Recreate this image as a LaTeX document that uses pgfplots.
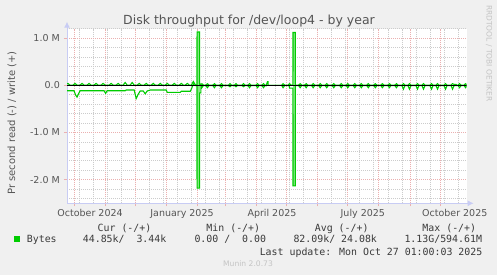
\documentclass[border=0pt]{standalone}
\usepackage{fontspec}
\setmainfont{DejaVu Sans}
\newfontfamily\monofont{DejaVu Sans Mono}
\usepackage{pgfplots}
\pgfplotsset{compat=1.18}
\usetikzlibrary{arrows.meta}

\definecolor{bg}{HTML}{F0F0F0}
\definecolor{munin}{HTML}{00CC00}
\definecolor{spikefill}{HTML}{84E884}
\definecolor{mgrid}{HTML}{EBB0B0}
\definecolor{mingrid}{HTML}{CCCCCC}
\definecolor{axiscol}{HTML}{C8CCF4}
\definecolor{txt}{HTML}{555555}
\definecolor{legtxt}{HTML}{3A3A3A}
\definecolor{faint}{HTML}{C4C4C4}

% days counted from 1 Oct 2024, values in MB/s
\pgfplotstableread{
day val
-7 0.03
-6 0.04
-4 0.005
-1 0.005
1 0.04
3 0.005
6 0.005
8 0.04
10 0.005
13 0.005
15 0.04
17 0.005
20 0.005
22 0.04
24 0.005
27 0.005
29 0.04
31 0.005
35 0.005
37 0.04
39 0.005
42 0.005
44 0.04
46 0.005
49 0.005
51 0.06
53 0.005
56 0.005
58 0.06
60 0.005
63 0.005
65 0.04
67 0.005
70 0.005
72 0.04
74 0.005
77 0.005
79 0.04
81 0.005
84 0.005
86 0.04
88 0.005
91 0.005
93 0.04
95 0.005
98 0.005
100 0.04
102 0.005
105 0.005
107 0.04
109 0.005
111 0.005
113 0.04
115 0.005
117 0.005
119 0.08
121 0.01
122.6 0.01
122.7 1.13
125.2 1.13
125.3 0.005
126 0.005
127.5 0.035
129 0.005
131.5 0.005
133 0.035
134.5 0.005
138.5 0.005
140 0.035
141.5 0.005
145.5 0.005
147 0.035
148.5 0.005
154 0.005
155.5 0.035
157 0.005
160 0.005
161.5 0.035
163 0.005
167.5 0.005
169 0.035
170.5 0.005
173.5 0.005
175 0.035
176.5 0.005
181.5 0.005
183 0.035
184.5 0.005
187.5 0.005
189 0.035
190.5 0
191.5 -0.01
193 0.08
193.5 0.08
193.6 0
207 0
208.5 0.035
210 0.005
213.5 0.005
215 0.035
216.5 0.005
218.3 0.005
218.4 1.12
220.7 1.12
220.8 0.005
224 0.005
225.5 0.035
227 0.005
230 0.005
231.5 0.035
233 0.005
237 0.005
238.5 0.035
240 0.005
244 0.005
245.5 0.035
247 0.005
250.5 0.005
252 0.035
253.5 0.005
257.5 0.005
259 0.035
260.5 0.005
265 0.005
266.5 0.035
268 0.005
271.5 0.005
273 0.035
274.5 0.005
278.5 0.005
280 0.035
281.5 0.005
285 0.005
286.5 0.035
288 0.005
292 0.005
293.5 0.035
295 0.005
299 0.005
300.5 0.035
302 0.005
306 0.005
307.5 0.035
309 0.005
313 0.005
314.5 0.035
316 0.005
320 0.005
321.5 0.035
323 0.005
327 0.005
328.5 0.035
330 0.005
333 0.005
334.5 0.035
336 0.005
341 0.005
342.5 0.035
344 0.005
347 0.005
348.5 0.035
350 0.005
355 0.005
356.5 0.035
358 0.005
361 0.005
362.5 0.035
364 0.005
369 0.005
370.5 0.035
372 0.005
376 0.005
377.5 0.035
379 0.02
381 0.02
381.5 0.005
383 0.005
384.5 0.035
386 0.005
389 0.005
390.5 0.035
391.6 0.01
}\writetable

\pgfplotstableread{
day val
-7 -0.115
0 -0.115
1.5 -0.2
3 -0.25
4.5 -0.18
6 -0.115
30 -0.115
31.5 -0.17
33 -0.115
51 -0.115
52 -0.1
60 -0.1
62 -0.28
64 -0.19
66 -0.12
69 -0.12
71 -0.18
73 -0.12
76 -0.1
92 -0.1
93 -0.15
106 -0.15
107 -0.125
116 -0.125
118 -0.03
119 0.03
120 0
122.6 -0.01
122.7 -2.18
125.2 -2.18
125.3 -0.16
126.5 -0.16
126.6 -0.005
127.5 -0.05
129 -0.005
131.5 -0.005
133 -0.05
134.5 -0.005
138.5 -0.005
140 -0.05
141.5 -0.005
145.5 -0.005
147 -0.05
148.5 -0.005
154 -0.005
155.5 -0.03
157 -0.005
160 -0.005
161.5 -0.03
163 -0.005
167.5 -0.005
169 -0.03
170.5 -0.005
173.5 -0.005
175 -0.05
176.5 -0.005
181.5 -0.005
183 -0.05
184.5 -0.005
187.5 -0.005
189 -0.05
190.5 0
207 0
208.5 -0.05
210 -0.005
214.5 -0.005
215 -0.06
218.3 -0.06
218.4 -2.13
220.7 -2.13
220.8 -0.005
224 -0.005
225.5 -0.05
227 -0.005
230 -0.005
231.5 -0.05
233 -0.005
237 -0.005
238.5 -0.05
240 -0.005
244 -0.005
245.5 -0.05
247 -0.005
250.5 -0.005
252 -0.05
253.5 -0.005
257.5 -0.005
259 -0.05
260.5 -0.005
265 -0.005
266.5 -0.05
268 -0.005
271.5 -0.005
273 -0.05
274.5 -0.005
278.5 -0.005
280 -0.05
281.5 -0.005
285 -0.005
286.5 -0.05
288 -0.005
292 -0.005
293.5 -0.05
295 -0.005
299 -0.005
300.5 -0.05
302 -0.005
306 -0.005
307.5 -0.05
309 -0.005
313 -0.005
314.5 -0.05
316 -0.005
320 -0.005
321.5 -0.05
323 -0.005
327 -0.005
328.5 -0.08
330 -0.005
333 -0.005
334.5 -0.08
336 -0.005
341 -0.005
342.5 -0.08
344 -0.005
347 -0.005
348.5 -0.08
350 -0.005
355 -0.005
356.5 -0.08
358 -0.005
361 -0.005
362.5 -0.08
364 -0.005
369 -0.005
370.5 -0.08
372 -0.005
376 -0.005
377.5 -0.08
379 -0.005
383 -0.005
384.5 -0.05
386 -0.005
389 -0.005
390.5 -0.05
391.6 -0.01
}\readtable

\begin{document}
\begin{tikzpicture}
\useasboundingbox (0,0) rectangle (497bp,275bp);
\fill[bg] (0,0) rectangle (497bp,275bp);

\begin{axis}[
  anchor=south west, at={(67bp,71.7bp)},
  scale only axis, width=399.7bp, height=174.6bp,
  xmin=-7, xmax=391.6, ymin=-2.5, ymax=1.2,
  axis lines=left,
  x axis line style={draw=axiscol, line width=1bp, -{Latex[length=6bp,width=6bp]}, shorten >=-7bp},
  y axis line style={draw=axiscol, line width=1bp, -{Latex[length=6bp,width=6bp]}, shorten >=-7bp},
  axis background/.style={fill=white},
  xtick={0,31,61,92,123,151,182,212,243,273,304,335,365},
  xticklabels={},
  minor xtick={5,19,33,47,61,75,89,103,117,131,145,159,173,187,201,215,229,243,257,271,285,299,313,327,341,355,369,383},
  ytick={-2,-1,0,1},
  yticklabels={-2.0 M,-1.0 M,0.0,1.0 M},
  minor ytick={-2.4,-2.2,-1.8,-1.6,-1.4,-1.2,-0.8,-0.6,-0.4,-0.2,0.2,0.4,0.6,0.8,1.2},
  grid=both,
  major grid style={draw=mgrid, dash pattern=on 1bp off 1bp, line width=0.75bp},
  minor grid style={draw=mingrid, dash pattern=on 1bp off 1bp, line width=0.75bp},
  tick align=outside, major tick length=3bp, minor tick length=0bp,
  major tick style={draw=mgrid, line width=0.75bp},
  extra x ticks={16,107.7,197.4,288,379.7},
  extra x tick labels={October 2024,January 2025,April 2025,July 2025,October 2025},
  extra x tick style={grid=none, major tick length=0bp},
  tick label style={font=\fontsize{9.5bp}{11bp}\selectfont, text=txt, inner sep=0pt},
  x tick label style={anchor=base, yshift=-12.8bp},
  y tick label style={anchor=east, xshift=-4bp},
]
  % light interior of the two spikes
  \addplot[draw=none, fill=spikefill] coordinates {(122.7,-2.18) (122.7,1.13) (125.2,1.13) (125.2,-2.18)};
  \addplot[draw=none, fill=spikefill] coordinates {(218.4,-2.13) (218.4,1.12) (220.7,1.12) (220.7,-2.13)};
  % read (-) and write (+)
  \addplot[munin, line width=1.1bp] table[x=day, y=val] {\readtable};
  \addplot[munin, line width=1.1bp] table[x=day, y=val] {\writetable};
  % zero line
  \addplot[black, line width=1.1bp] coordinates {(-7,0) (391.6,0)};
\end{axis}

% title, axis label and watermark
\node[anchor=base, text=txt, font=\fontsize{12.5bp}{14bp}\selectfont] at (249bp,250.5bp) {Disk throughput for /dev/loop4 - by year};
\node[rotate=90, text=txt, font=\fontsize{10bp}{12bp}\selectfont] at (12bp,152bp) {Pr second read (-) / write (+)};
\node[rotate=-90, text=faint, font=\fontsize{7.5bp}{9bp}\selectfont] at (489bp,221.5bp) {RRDTOOL / TOBI OETIKER};

% legend
\begin{scope}[every node/.style={text=legtxt, font=\monofont\fontsize{9.9bp}{12bp}\selectfont, inner sep=0pt}]
  \node[anchor=base] at (124.5bp,43.7bp) {Cur (-/+)};
  \node[anchor=base] at (233.3bp,43.7bp) {Min (-/+)};
  \node[anchor=base] at (341.7bp,43.7bp) {Avg (-/+)};
  \node[anchor=base] at (449.3bp,43.7bp) {Max (-/+)};
  \fill[munin] (13.8bp,33bp) rectangle (19.6bp,38.8bp);
  \node[anchor=base west] at (26.7bp,32.1bp) {Bytes};
  \node[anchor=base west] at (82.7bp,32.1bp) {44.85k/~~3.44k};
  \node[anchor=base west] at (194.3bp,32.1bp) {0.00 /~~0.00};
  \node[anchor=base west] at (293.3bp,32.1bp) {82.09k/ 24.08k};
  \node[anchor=base west] at (404.3bp,32.1bp) {1.13G/594.61M};
  \node[anchor=base east] at (482.5bp,19.7bp) {Last update: Mon Oct 27 01:00:03 2025};
\end{scope}
\node[anchor=base, text=faint, inner sep=0pt, font=\fontsize{7.6bp}{9bp}\selectfont] at (248bp,8.3bp) {Munin 2.0.73};
\end{tikzpicture}
\end{document}
